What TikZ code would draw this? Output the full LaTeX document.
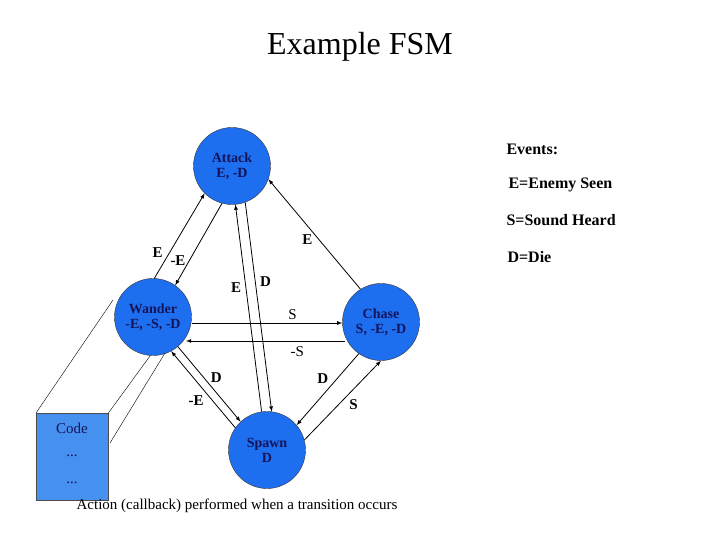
\documentclass[tikz,border=0pt]{standalone}
\usepackage{fontspec}
\setmainfont{Liberation Serif}
\begin{document}
\begin{tikzpicture}[x=1pt,y=-1pt,
  st/.style={circle,draw=black!80,fill=nodeblue,minimum size=77pt,inner sep=0pt,align=center,font=\bfseries\fontsize{14}{15}\selectfont,text=navy},
  ar/.style={-latex,thick},
  lb/.style={font=\bfseries\fontsize{15}{16}\selectfont},
  ev/.style={font=\bfseries\fontsize{16}{18}\selectfont,anchor=west}]
\definecolor{nodeblue}{RGB}{30,110,240}
\definecolor{navy}{RGB}{20,20,90}
\definecolor{boxblue}{RGB}{70,145,240}
\useasboundingbox (0,0) rectangle (720,540);
\node (title) at (360,47) {\fontsize{32}{36}\selectfont Example FSM};
\node[st] (attack) at (232,166) {Attack\\E, -D};
\node[st] (wander) at (153,317) {Wander\\-E, -S, -D};
\node[st] (chase) at (381,322) {Chase\\S, -E, -D};
\node[st] (spawn) at (267,450) {Spawn\\D};
\node[draw=black!70,fill=boxblue,minimum width=72pt,minimum height=87pt,anchor=north west,inner sep=0pt] (code) at (36,413) {};
\node[text=navy,font=\fontsize{15}{16}\selectfont] (c1) at (72,428) {Code};
\node[text=navy,font=\fontsize{15}{16}\selectfont] (c2) at (72,456) {...};
\node[text=navy,font=\fontsize{15}{16}\selectfont] (c3) at (72,483) {...};
\coordinate (k1) at (113,300);
\coordinate (k2) at (150,356);
\coordinate (k3) at (165,353);
\draw (code.north west) -- (k1);
\draw (code.north east) -- (k2);
\draw (110,443) -- (k3);
% edges
\draw[ar] (wander.88) -- (attack.225) node[lb,pos=0.3,left=3pt] {E};
\draw[ar] (attack.255) -- (wander.55) node[lb,pos=0.7,left=0pt] {-E};
\draw[ar] (spawn.98) -- (attack.275) node[lb,pos=0.6,left=1pt] {E};
\draw[ar] (attack.290) -- (spawn.83) node[lb,pos=0.38,right=1pt] {D};
\draw[ar] (chase.122) -- (attack.340) node[lb,pos=0.45,left=3pt] {E};
\draw[ar] (wander.east |- 0,323) -- (chase.west |- 0,323) node[pos=0.67,above,font=\fontsize{15}{16}\selectfont] {S};
\draw[ar] (345,341) -- (186,341) node[lb,pos=0.3,below=2pt,font=\fontsize{15}{16}\selectfont] {-S};
\draw[ar] (wander.-50) -- (spawn.133) node[lb,pos=0.5,above right=-2pt] {D};
\draw[ar] (spawn.145) -- (wander.-62) node[lb,pos=0.45,below left=-1pt] {-E};
\draw[ar] (chase.-125) -- (spawn.40) node[lb,pos=0.45,above left=-1pt] {D};
\draw[ar] (spawn.15) -- (chase.-90) node[lb,pos=0.55,below right=-1pt] {S};
% events
\node[ev] (e0) at (503,149) {Events:};
\node[ev] (e1) at (505,185) {E=Enemy Seen};
\node[ev] (e2) at (503,220) {S=Sound Heard};
\node[ev] (e3) at (504,257) {D=Die};
\node[font=\fontsize{15}{16}\selectfont] (cap) at (237,506) {Action (callback) performed when a transition occurs};
\end{tikzpicture}
\end{document}
